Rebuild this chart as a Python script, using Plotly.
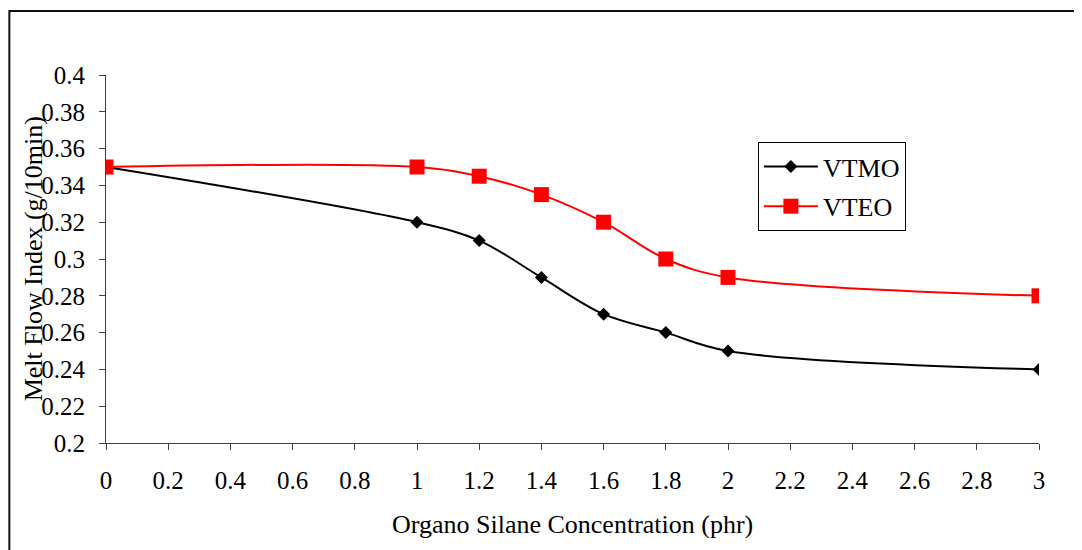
import plotly.graph_objects as go

conc_vtmo = [0, 1, 1.2, 1.4, 1.6, 1.8, 2, 3]
mfi_vtmo = [0.35, 0.32, 0.31, 0.29, 0.27, 0.26, 0.25, 0.24]
conc_vteo = [0, 1, 1.2, 1.4, 1.6, 1.8, 2, 3]
mfi_vteo = [0.35, 0.35, 0.345, 0.335, 0.32, 0.30, 0.29, 0.28]

x_ticks = [0, 0.2, 0.4, 0.6, 0.8, 1, 1.2, 1.4, 1.6, 1.8, 2, 2.2, 2.4, 2.6, 2.8, 3]
x_tick_labels = ["0", "0.2", "0.4", "0.6", "0.8", "1", "1.2", "1.4", "1.6", "1.8", "2",
                 "2.2", "2.4", "2.6", "2.8", "3"]
y_ticks = [0.2, 0.22, 0.24, 0.26, 0.28, 0.3, 0.32, 0.34, 0.36, 0.38, 0.4]
y_tick_labels = ["0.2", "0.22", "0.24", "0.26", "0.28", "0.3", "0.32", "0.34", "0.36", "0.38", "0.4"]

FONT = "Liberation Serif, Times New Roman, serif"

fig = go.Figure()
fig.add_trace(go.Scatter(
    x=conc_vtmo, y=mfi_vtmo, name="VTMO", mode="lines+markers", legendgroup="a",
    line=dict(color="black", width=2, shape="spline", smoothing=1),
    marker=dict(symbol="diamond", size=10, color="black"),
))
fig.add_trace(go.Scatter(
    x=conc_vteo, y=mfi_vteo, name="VTEO", mode="lines+markers", legendgroup="b",
    line=dict(color="#ff0000", width=2, shape="spline", smoothing=1),
    marker=dict(symbol="square", size=15, color="#ff0000"),
))

# page body has an 8px margin: work in window pixels, then offset
OFF = 8
L, R, T, B = 105.7, 1039.3, 75, 443
W, H = 1082 - OFF, 550 - OFF

def px_x(p):
    return (p - L) / (R - L)

def px_y(p):
    return (B - p) / (B - T)

fig.update_layout(
    width=W, height=H,
    margin=dict(l=L - OFF, r=W - (R - OFF), t=T - OFF, b=H - (B - OFF), pad=0),
    paper_bgcolor="white", plot_bgcolor="white",
    font=dict(family=FONT, size=25, color="black"),
    showlegend=True,
    legend=dict(
        x=px_x(758), y=px_y(142), xanchor="left", yanchor="top",
        bordercolor="black", borderwidth=1, bgcolor="white",
        font=dict(family=FONT, size=26, color="black"),
        itemwidth=54, traceorder="grouped", tracegroupgap=3,
    ),
    xaxis=dict(
        range=[0, 3], tickmode="array", tickvals=x_ticks, ticktext=x_tick_labels,
        showgrid=False, zeroline=False, showline=True, linecolor="#404040", linewidth=1,
        ticks="outside", ticklen=6, tickcolor="#404040", tickwidth=1,
        ticklabelstandoff=9,
        tickfont=dict(family=FONT, size=25, color="black"),
    ),
    yaxis=dict(
        range=[0.2, 0.4], tickmode="array", tickvals=y_ticks, ticktext=y_tick_labels,
        showgrid=False, zeroline=False, showline=True, linecolor="#404040", linewidth=1,
        ticks="outside", ticklen=6, tickcolor="#404040", tickwidth=1,
        ticklabelstandoff=9,
        tickfont=dict(family=FONT, size=25, color="black"),
    ),
    annotations=[
        dict(text="Melt Flow Index (g/10min)", xref="paper", yref="paper",
             x=px_x(33), y=0.5, xanchor="center", yanchor="middle",
             textangle=-90, showarrow=False, font=dict(family=FONT, size=26, color="black")),
        dict(text="Organo Silane Concentration (phr)", xref="paper", yref="paper",
             x=px_x(572), y=px_y(524), xanchor="center", yanchor="middle",
             showarrow=False, font=dict(family=FONT, size=26, color="black")),
    ],
    shapes=[
        dict(type="rect", xref="paper", yref="paper",
             x0=px_x(9), x1=px_x(1200), y0=px_y(700), y1=px_y(11),
             line=dict(color="#111111", width=2), fillcolor="rgba(0,0,0,0)", layer="below"),
    ],
)

fig.write_html("out.html")
